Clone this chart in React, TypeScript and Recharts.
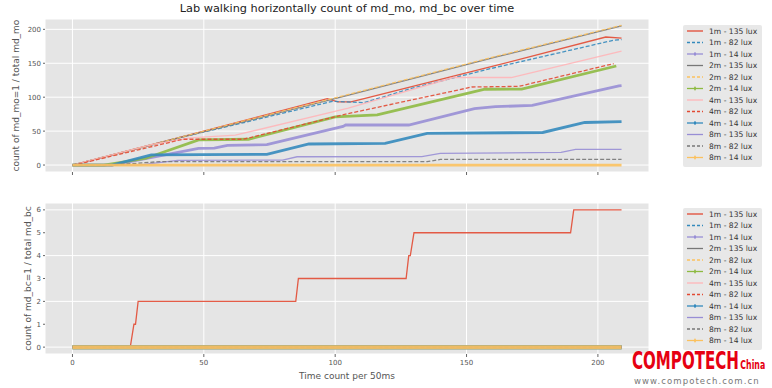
import { LineChart, Line, XAxis, YAxis, CartesianGrid } from "recharts";

type Pt = [number, number];

// top panel: count of md_mo=1 (time, count) breakpoints
const mo1m135: Pt[] = [[0, 0], [50, 50], [97, 98], [101, 93], [106, 93], [111, 98], [159, 144.6], [203, 188.7], [209, 187]];
const mo1m82: Pt[] = [[0, 0], [40, 40], [48, 47], [56, 54], [99, 94], [111, 92], [129, 113], [159, 142], [206, 184], [209, 185]];
const mo1m14: Pt[] = [[0, 0], [15, 0], [48, 24.5], [54, 25], [59, 29], [74, 30], [103, 57], [104, 59], [128, 59], [153, 83], [161, 86], [175, 88], [208, 116.6], [209, 117]];
const mo2m135: Pt[] = [[0, 0], [49, 48], [104, 102], [161, 159], [209, 205]];
const mo2m82: Pt[] = [[0, 0], [49, 49], [104, 103], [161, 160], [209, 206]];
const mo2m14: Pt[] = [[0, 0], [12, 0], [28, 10], [48, 37], [67, 38], [100, 71], [116, 74], [157, 111.7], [171, 112], [207, 146]];
const mo4m135: Pt[] = [[0, 0], [30, 30], [45, 40], [62, 44], [105, 84], [145, 129], [167, 129], [209, 168]];
const mo4m82: Pt[] = [[0, 0], [5, 4], [42, 38], [65, 38], [104, 75], [152, 115], [170, 116], [206, 149.5]];
const mo4m14: Pt[] = [[0, 0], [15, 0], [30, 15], [74, 15.7], [90, 31], [119, 32], [135, 46.6], [179, 48], [195, 62.7], [209, 64]];
const mo8m135: Pt[] = [[0, 0], [25, 0], [40, 7], [80, 7.4], [85.5, 12.2], [133, 12.3], [140, 17.2], [186, 18.6], [191.5, 23], [209, 23]];
const mo8m82: Pt[] = [[0, 0], [15, 0], [33, 5], [135, 5], [140, 8.3], [209, 8.3]];
const mo8m14: Pt[] = [[0, 0], [209, 0]];

// bottom panel: count of md_bc=1
const bc1m135: Pt[] = [[0, 0], [22, 0], [23.4, 1], [24, 1], [25, 2], [85, 2], [86, 3], [127, 3], [128, 4], [128.6, 4], [130, 5], [189.6, 5], [190.8, 6], [209, 6]];
const bcFlat: Pt[] = [[0, 0], [209, 0]];

const labels = [
  "1m - 135 lux", "1m - 82 lux", "1m - 14 lux",
  "2m - 135 lux", "2m - 82 lux", "2m - 14 lux",
  "4m - 135 lux", "4m - 82 lux", "4m - 14 lux",
  "8m - 135 lux", "8m - 82 lux", "8m - 14 lux",
];
const colors = [
  "#E24A33", "#348ABD", "#988ED5", "#777777", "#FBC15E", "#8EBA42",
  "#FFB5B8", "#E24A33", "#348ABD", "#988ED5", "#777777", "#FBC15E",
];
const kinds = ["solid", "dashed", "marker", "solid", "dashed", "marker", "solid", "dashed", "marker", "solid", "dashed", "marker"];

const moSeries = [mo1m135, mo1m82, mo1m14, mo2m135, mo2m82, mo2m14, mo4m135, mo4m82, mo4m14, mo8m135, mo8m82, mo8m14];
const bcSeries = [bc1m135, bcFlat, bcFlat, bcFlat, bcFlat, bcFlat, bcFlat, bcFlat, bcFlat, bcFlat, bcFlat, bcFlat];

const xTicks = [0, 50, 100, 150, 200];
const moTicks = [0, 50, 100, 150, 200];
const bcTicks = [0, 1, 2, 3, 4, 5, 6];

const toPts = (arr: Pt[]) => arr.map(([t, v]) => ({ t, v }));

const tickStyle = { fontSize: 7, fill: "#555" };

function renderLines(series: Pt[][], prefix: string, markerWidth: number) {
  return series.map((s, i) => (
    <Line
      key={`${prefix}-${i}`}
      data={toPts(s)}
      dataKey="v"
      type="linear"
      dot={false}
      stroke={colors[i]}
      strokeOpacity={0.9}
      strokeWidth={kinds[i] === "marker" ? markerWidth : 1.3}
      strokeDasharray={kinds[i] === "dashed" ? "4 2" : undefined}
      isAnimationActive={false}
    />
  ));
}

function LegendBox({ top, height }: { top: number; height: number }) {
  return (
    <svg
      width={79}
      height={height}
      style={{ position: "absolute", left: 683, top }}
    >
      <rect x={0} y={0} width={79} height={height} fill="#E8E8E8" rx={2} />
      {labels.map((lab, i) => {
        const y = 6 + i * 11.5;
        return (
          <g key={lab}>
            <line
              x1={4}
              x2={20}
              y1={y}
              y2={y}
              stroke={colors[i]}
              strokeWidth={1.3}
              strokeDasharray={kinds[i] === "dashed" ? "3 2" : undefined}
            />
            {kinds[i] === "marker" && (
              <>
                <line x1={12} x2={12} y1={y - 2} y2={y + 2} stroke={colors[i]} strokeWidth={1} />
                <circle cx={12} cy={y} r={1.2} fill={colors[i]} />
              </>
            )}
            <text x={26} y={y + 2.7} fontSize={7.6} fill="#333">
              {lab}
            </text>
          </g>
        );
      })}
    </svg>
  );
}

export default function App() {
  return (
    <div
      style={{
        position: "absolute",
        left: 0,
        top: 0,
        width: 772,
        height: 388,
        background: "#fff",
        fontFamily: "'DejaVu Sans', sans-serif",
        overflow: "hidden",
      }}
    >
      <div
        style={{
          position: "absolute",
          left: 45,
          width: 604,
          top: 2,
          textAlign: "center",
          fontSize: 11.3,
          color: "#222",
        }}
      >
        Lab walking horizontally count of md_mo, md_bc over time
      </div>

      <div style={{ position: "absolute", left: 0, top: 0 }}>
        <LineChart width={772} height={176} margin={{ top: 19, right: 123, bottom: 0, left: 0 }}>
          <CartesianGrid fill="#E5E5E5" stroke="#FFFFFF" strokeWidth={1} />
          <XAxis
            dataKey="t"
            type="number"
            domain={[-10.45, 219.45]}
            ticks={xTicks}
            allowDataOverflow
            height={4}
            axisLine={false}
            tickSize={3}
            tickLine={{ stroke: "#666" }}
            tickFormatter={() => ""}
          />
          <YAxis
            type="number"
            domain={[-10.25, 215.25]}
            ticks={moTicks}
            allowDataOverflow
            width={45}
            axisLine={false}
            tickSize={2}
            tickMargin={2}
            tickLine={{ stroke: "#666" }}
            tick={tickStyle}
            label={{
              value: "count of md_mo=1 / total md_mo",
              angle: -90,
              position: "insideLeft",
              offset: 16,
              style: { textAnchor: "middle", fontSize: 9, fill: "#555" },
            }}
          />
          {renderLines(moSeries, "mo", 2.8)}
        </LineChart>
      </div>

      <div style={{ position: "absolute", left: 0, top: 180 }}>
        <LineChart width={772} height={208} margin={{ top: 23, right: 123, bottom: 0, left: 0 }}>
          <CartesianGrid fill="#E5E5E5" stroke="#FFFFFF" strokeWidth={1} />
          <XAxis
            dataKey="t"
            type="number"
            domain={[-10.45, 219.45]}
            ticks={xTicks}
            allowDataOverflow
            height={34}
            axisLine={false}
            tickSize={3}
            tickMargin={3}
            tickLine={{ stroke: "#666" }}
            tick={tickStyle}
            label={{
              value: "Time count per 50ms",
              position: "insideBottom",
              offset: 9,
              style: { fontSize: 9, fill: "#555" },
            }}
          />
          <YAxis
            type="number"
            domain={[-0.3, 6.3]}
            ticks={bcTicks}
            allowDataOverflow
            width={45}
            axisLine={false}
            tickSize={2}
            tickMargin={2}
            tickLine={{ stroke: "#666" }}
            tick={tickStyle}
            label={{
              value: "count of md_bc=1 / total md_bc",
              angle: -90,
              position: "insideLeft",
              offset: 28,
              style: { textAnchor: "middle", fontSize: 9, fill: "#555" },
            }}
          />
          {renderLines(bcSeries, "bc", 4)}
        </LineChart>
      </div>

      <LegendBox top={25} height={142} />
      <LegendBox top={208} height={142} />

      <div
        style={{
          position: "absolute",
          left: 632,
          top: 351,
          whiteSpace: "nowrap",
          color: "#E60012",
          fontFamily: "'Liberation Sans Narrow', 'DejaVu Sans Condensed', sans-serif",
          fontWeight: "bold",
          fontSize: 25,
          lineHeight: "20px",
          height: 20,
          transform: "scaleX(0.67)",
          transformOrigin: "left top",
        }}
      >
        COMPOTECH
        <span style={{ fontSize: 13, marginLeft: 2 }}>China</span>
      </div>
      <div
        style={{
          position: "absolute",
          left: 634,
          top: 377,
          whiteSpace: "nowrap",
          color: "#777",
          fontSize: 8.5,
          lineHeight: "9px",
          letterSpacing: 1.1,
        }}
      >
        www.compotech.com.cn
      </div>
    </div>
  );
}
